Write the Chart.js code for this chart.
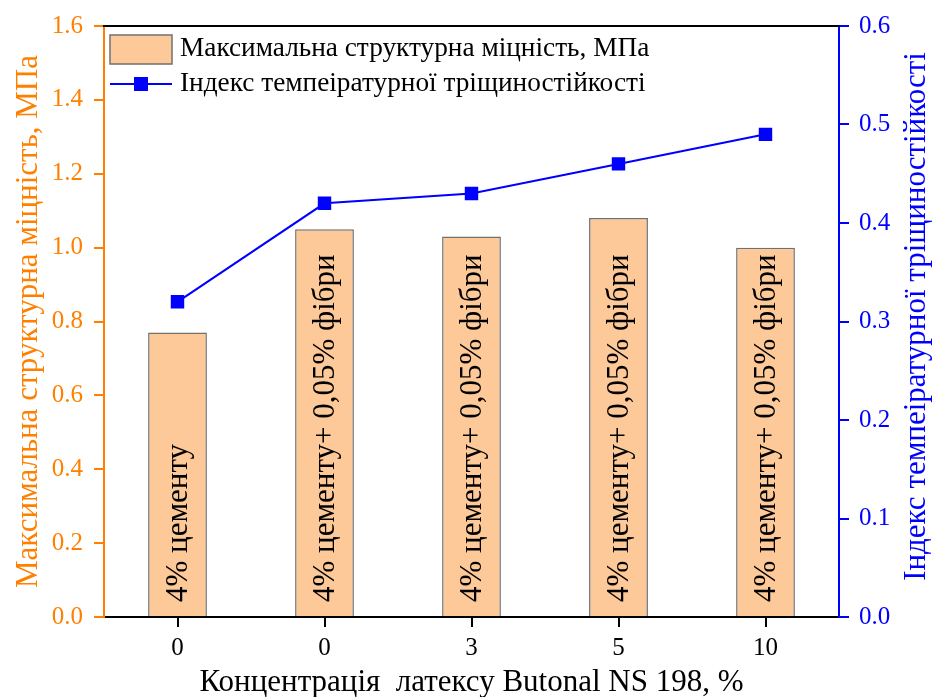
<!DOCTYPE html>
<html>
<head>
<meta charset="utf-8">
<script src="https://cdn.jsdelivr.net/npm/chart.js@4.4.1/dist/chart.umd.min.js"></script>
<style>
  html, body { margin: 0; padding: 0; background: #fff; }
  #wrap { width: 932px; height: 697px; }
</style>
</head>
<body>
<div id="wrap"><canvas id="c" width="932" height="697"></canvas></div>
<script>
const categories = ["0", "0", "3", "5", "10"];
const strengthValues = [0.77, 1.05, 1.03, 1.08, 1.00];
const indexValues = [0.32, 0.42, 0.43, 0.46, 0.49];
const barLabels = ["4% цементу", "4% цементу+ 0,05% фібри", "4% цементу+ 0,05% фібри", "4% цементу+ 0,05% фібри", "4% цементу+ 0,05% фібри"];
const leftTicks = [0, 0.2, 0.4, 0.6, 0.8, 1.0, 1.2, 1.4, 1.6];
const rightTicks = [0, 0.1, 0.2, 0.3, 0.4, 0.5, 0.6];
const seriesNames = ["Максимальна структурна міцність, МПа", "Індекс темпеіратурної тріщиностійкості"];
const leftTitle = "Максимальна структурна міцність, МПа";
const rightTitle = "Індекс темпеіратурної тріщиностійкості";
const xTitle = "Концентрація  латексу Butonal NS 198, %";

const ORANGE = "#FF8000";
const BLUE = "#0000FF";
const BARFILL = "#FDC998";
const BARLINE = "#707070";
const FONT = "'Liberation Serif', 'Times New Roman', serif";

const barLabelPlugin = {
  id: 'barLabels',
  afterDatasetsDraw(chart) {
    const meta = chart.getDatasetMeta(1);
    const ctx = chart.ctx;
    ctx.save();
    ctx.fillStyle = "#000";
    ctx.font = "31px " + FONT;
    ctx.textAlign = "left";
    ctx.textBaseline = "middle";
    meta.data.forEach((bar, i) => {
      ctx.save();
      ctx.translate(bar.x + 1, bar.base - 14);
      ctx.rotate(-Math.PI / 2);
      ctx.fillText(barLabels[i], 0, 0);
      ctx.restore();
    });
    ctx.restore();
  }
};

const frameLegendPlugin = {
  id: 'frameLegend',
  afterDraw(chart) {
    const ctx = chart.ctx;
    const a = chart.chartArea;
    ctx.save();
    ctx.strokeStyle = "#000";
    ctx.lineWidth = 2;
    ctx.beginPath();
    ctx.moveTo(a.left - 1, a.top);
    ctx.lineTo(a.right + 1, a.top);
    ctx.stroke();
    const lx = a.left + 6;
    ctx.fillStyle = BARFILL;
    ctx.fillRect(lx, a.top + 9, 62, 29);
    ctx.strokeStyle = BARLINE;
    ctx.lineWidth = 1.5;
    ctx.strokeRect(lx, a.top + 9, 62, 29);
    ctx.strokeStyle = BLUE;
    ctx.lineWidth = 2;
    ctx.beginPath();
    ctx.moveTo(lx, a.top + 58);
    ctx.lineTo(lx + 62, a.top + 58);
    ctx.stroke();
    ctx.fillStyle = BLUE;
    ctx.fillRect(lx + 31 - 7, a.top + 58 - 7, 14, 14);
    ctx.fillStyle = "#000";
    ctx.font = "27.3px " + FONT;
    ctx.textAlign = "left";
    ctx.textBaseline = "middle";
    ctx.fillText(seriesNames[0], lx + 70, a.top + 23);
    ctx.fillText(seriesNames[1], lx + 70, a.top + 58);
    // right axis title, reading bottom to top
    ctx.fillStyle = BLUE;
    ctx.font = "31px " + FONT;
    ctx.textAlign = "center";
    ctx.textBaseline = "alphabetic";
    ctx.translate(925, (a.top + a.bottom) / 2 - 5);
    ctx.rotate(-Math.PI / 2);
    ctx.fillText(rightTitle, 0, 0);
    ctx.restore();
  }
};

new Chart(document.getElementById('c'), {
  data: {
    labels: categories,
    datasets: [
      {
        type: 'line',
        label: seriesNames[1],
        data: indexValues,
        yAxisID: 'y2',
        borderColor: BLUE,
        backgroundColor: BLUE,
        borderWidth: 2,
        pointStyle: 'rect',
        pointRadius: 9.5,
        pointBackgroundColor: BLUE,
        pointBorderWidth: 0,
        tension: 0,
        order: 0
      },
      {
        type: 'bar',
        label: seriesNames[0],
        data: strengthValues,
        yAxisID: 'y',
        backgroundColor: BARFILL,
        borderColor: BARLINE,
        borderWidth: 1.5,
        categoryPercentage: 1,
        barPercentage: 0.4,
        order: 1
      }
    ]
  },
  options: {
    responsive: false,
    animation: false,
    layout: { padding: { top: 24, left: 0, right: 0, bottom: 0 } },
    plugins: { legend: { display: false }, tooltip: { enabled: false } },
    scales: {
      x: {
        type: 'category',
        offset: true,
        grid: { offset: false, drawOnChartArea: false, color: '#000', tickLength: 10, lineWidth: 2, tickWidth: 2 },
        border: { color: '#000', width: 2 },
        ticks: { color: '#000', font: { family: FONT, size: 25 }, padding: 6, maxRotation: 0 },
        title: { display: true, text: xTitle, color: '#000', font: { family: FONT, size: 31 }, padding: { top: 0, bottom: -4 } },
        afterFit(s) { s.height = 80; }
      },
      y: {
        position: 'left',
        min: 0, max: 1.6,
        afterBuildTicks(s) { s.ticks = leftTicks.map(v => ({ value: v })); },
        grid: { drawOnChartArea: false, color: ORANGE, tickLength: 10, lineWidth: 2, tickWidth: 2 },
        border: { color: ORANGE, width: 2 },
        ticks: { color: ORANGE, font: { family: FONT, size: 25 }, padding: 11, callback: v => v.toFixed(1) },
        title: { display: true, text: leftTitle, color: ORANGE, font: { family: FONT, size: 31 }, padding: { top: 10, bottom: 0 } },
        afterFit(s) { s.width = 104; }
      },
      y2: {
        position: 'right',
        min: 0, max: 0.6,
        afterBuildTicks(s) { s.ticks = rightTicks.map(v => ({ value: v })); },
        grid: { drawOnChartArea: false, color: BLUE, tickLength: 10, lineWidth: 2, tickWidth: 2 },
        border: { color: BLUE, width: 2 },
        ticks: { color: BLUE, font: { family: FONT, size: 25 }, padding: 10, callback: v => v.toFixed(1) },
        title: { display: false },
        afterFit(s) { s.width = 93; }
      }
    }
  },
  plugins: [barLabelPlugin, frameLegendPlugin]
});
</script>
</body>
</html>
